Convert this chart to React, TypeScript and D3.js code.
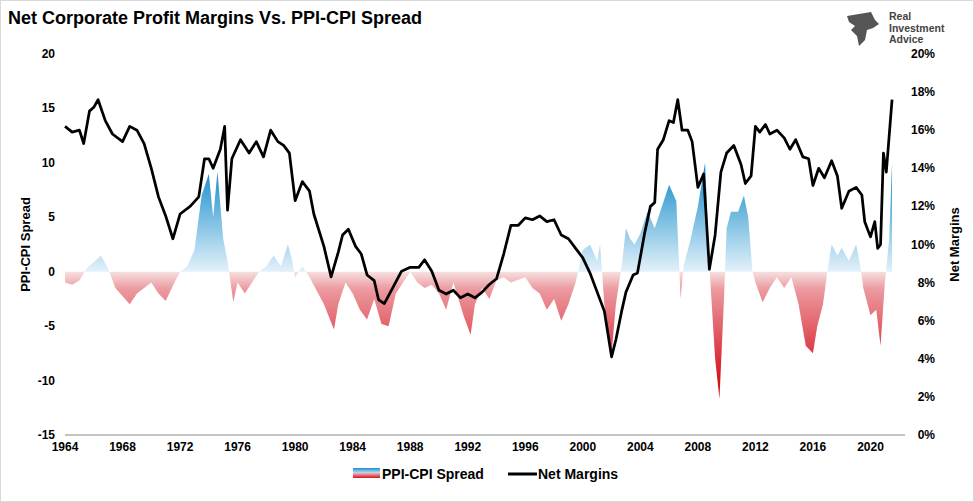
import React, { useEffect, useRef } from 'react';
import * as d3 from 'd3';

// PPI-CPI spread, [year, value]
const spread: [number, number][] = [
  [1964, -1], [1964.5, -1.2], [1965, -0.8], [1965.5, 0.3], [1966.5, 1.5], [1967, 0.3], [1967.5, -1.5],
  [1968.5, -3], [1969, -2], [1969.5, -1.5], [1970, -1], [1970.5, -2], [1971, -2.7], [1971.5, -1.3],
  [1972, 0], [1972.5, 0.5], [1973, 2], [1973.5, 7], [1974, 9], [1974.3, 5], [1974.6, 9.2], [1975, 3],
  [1975.3, 1], [1975.7, -2.8], [1976, -1], [1976.5, -2], [1977, -1], [1977.5, 0], [1978, 0.5],
  [1978.5, 1.5], [1979, 0.5], [1979.5, 2.5], [1979.8, 1], [1980, -0.5], [1980.5, 0.5], [1981, -0.5],
  [1982, -3], [1982.7, -5.3], [1983, -3], [1983.5, -1], [1984, -2], [1984.5, -3.5], [1985, -4.4],
  [1985.5, -2.5], [1986, -4.8], [1986.5, -5], [1987, -2], [1987.5, -1], [1988, 0], [1988.5, -1],
  [1989, -1.5], [1989.5, -1.2], [1990, -2], [1990.5, -3.5], [1991, -1], [1991.7, -4], [1992.2, -5.8],
  [1992.5, -3], [1993, -1.5], [1993.5, -2.5], [1994, -0.8], [1994.5, -0.5], [1995, -1], [1996, -0.5],
  [1996.5, -1.5], [1997, -2], [1997.5, -3.5], [1998, -2.5], [1998.5, -4.5], [1999, -3], [1999.5, -1],
  [2000, 2], [2000.5, 2.5], [2001, 1], [2001.2, 2.5], [2001.5, -3], [2002, -7.5], [2002.3, -3],
  [2002.7, 0.5], [2003, 4], [2003.3, 3], [2003.6, 2.5], [2004, 3.5], [2004.5, 5.5], [2005, 4],
  [2005.5, 6], [2006, 8], [2006.5, 6.5], [2006.8, -2.5], [2007, 0.5], [2007.5, 3], [2008, 6],
  [2008.5, 10], [2008.8, 0.5], [2009.2, -8], [2009.5, -11.7], [2009.8, -3], [2010, 4], [2010.3, 5.5],
  [2010.8, 5.5], [2011.2, 7], [2011.5, 5], [2011.8, 0], [2012, -1], [2012.5, -2.8], [2013, -1.5],
  [2013.5, -0.5], [2014, -1.5], [2014.5, -0.5], [2015, -3], [2015.5, -6.8], [2016, -7.5], [2016.3, -5],
  [2016.7, -3], [2017, 0], [2017.3, 2.5], [2017.7, 1.5], [2018, 2.2], [2018.5, 1], [2019, 2.5],
  [2019.3, 0.5], [2019.5, -1.5], [2020, -4], [2020.4, -3.5], [2020.7, -6.8], [2021, -1], [2021.3, 3],
  [2021.5, 10],
];

// Net corporate profit margins, [year, percent]
const margins: [number, number][] = [
  [1964, 16.2], [1964.5, 15.9], [1965, 16], [1965.3, 15.3], [1965.7, 17], [1966, 17.2], [1966.3, 17.6],
  [1966.8, 16.5], [1967.3, 15.8], [1968, 15.4], [1968.5, 16.2], [1969, 16], [1969.5, 15.3], [1970, 14],
  [1970.5, 12.5], [1971, 11.5], [1971.5, 10.3], [1972, 11.6], [1972.7, 12], [1973.3, 12.5], [1973.7, 14.5],
  [1974, 14.5], [1974.3, 14], [1974.8, 15], [1975.1, 16.2], [1975.3, 11.8], [1975.6, 14.5], [1976.2, 15.5],
  [1976.8, 14.8], [1977.3, 15.4], [1977.8, 14.6], [1978.3, 16], [1978.8, 15.4], [1979.2, 15.2],
  [1979.6, 14.8], [1980, 12.3], [1980.5, 13.3], [1981, 12.8], [1981.3, 11.6], [1982, 9.9], [1982.5, 8.3],
  [1983, 9.6], [1983.3, 10.5], [1983.7, 10.8], [1984.2, 9.9], [1984.6, 9.5], [1985, 8.4], [1985.5, 8.1],
  [1985.8, 7.1], [1986.2, 6.9], [1986.7, 7.6], [1987.4, 8.6], [1988, 8.8], [1988.6, 8.8], [1989, 9.2],
  [1989.5, 8.6], [1990, 7.6], [1990.5, 7.4], [1991, 7.6], [1991.5, 7.2], [1992, 7.4], [1992.5, 7.2],
  [1993, 7.5], [1993.5, 7.9], [1994, 8.2], [1994.5, 9.5], [1995, 11], [1995.5, 11], [1996, 11.4],
  [1996.5, 11.3], [1997, 11.5], [1997.5, 11.2], [1998, 11.3], [1998.5, 10.5], [1999, 10.3], [1999.5, 9.8],
  [2000, 9.3], [2000.5, 8.5], [2001, 7.5], [2001.5, 6.5], [2002, 4.1], [2002.3, 5], [2002.7, 6.5],
  [2003, 7.5], [2003.5, 8.4], [2003.8, 8.5], [2004.3, 10.6], [2004.7, 12], [2005, 12.2], [2005.2, 15],
  [2005.6, 15.5], [2006, 16.5], [2006.3, 16.4], [2006.6, 17.6], [2006.9, 16], [2007.3, 16], [2007.6, 15.4],
  [2008, 13], [2008.4, 13.7], [2008.8, 8.7], [2009.2, 10.5], [2009.6, 13.8], [2010, 14.8], [2010.5, 15.2],
  [2011, 14.2], [2011.3, 13.2], [2011.7, 13.6], [2012, 16.2], [2012.3, 15.9], [2012.7, 16.3], [2013, 15.8],
  [2013.5, 16], [2014, 15.6], [2014.4, 15], [2014.8, 15.5], [2015.3, 14.6], [2015.7, 14.5], [2016, 13.1],
  [2016.4, 14], [2016.8, 13.5], [2017.3, 14.4], [2017.7, 13.6], [2018, 11.9], [2018.5, 12.8], [2019, 13],
  [2019.4, 12.6], [2019.6, 11.2], [2020, 10.4], [2020.3, 11.2], [2020.5, 9.8], [2020.7, 10], [2020.9, 14.8],
  [2021.1, 13.8], [2021.5, 17.6],
];

const yearTicks = d3.range(1964, 2021, 4);
const leftTicks = [-15, -10, -5, 0, 5, 10, 15, 20];
const rightTicks = d3.range(0, 21, 2);

const W = 974, H = 502;
const m = { left: 65, right: 905, top: 54, bottom: 435 };
const font = 'Arial, "Liberation Sans", sans-serif';

const App = () => {
  const ref = useRef<SVGSVGElement | null>(null);

  useEffect(() => {
    if (!ref.current) return;
    const svg = d3.select(ref.current);
    svg.selectAll('*').remove();

    const x = d3.scaleLinear().domain([1964, 2022.4]).range([m.left, m.right]);
    const yL = d3.scaleLinear().domain([-15, 20]).range([m.bottom, m.top]);
    const yR = d3.scaleLinear().domain([0, 20]).range([m.bottom, m.top]);

    svg.append('rect').attr('x', 0.5).attr('y', 0.5).attr('width', W - 1).attr('height', H - 1)
      .attr('fill', 'white').attr('stroke', '#d9d9d9');

    const defs = svg.append('defs');
    const g = defs.append('linearGradient').attr('id', 'sp').attr('gradientUnits', 'userSpaceOnUse')
      .attr('x1', 0).attr('x2', 0).attr('y1', yL(10)).attr('y2', yL(-10));
    [[0, '#0a87c8'], [0.5, '#e3f1fa'], [0.5, '#f6e0e0'], [0.58, '#ec9aa0'], [1, '#d4121e']]
      .forEach(([o, c]) => g.append('stop').attr('offset', o as number).attr('stop-color', c as string));
    const lg = defs.append('linearGradient').attr('id', 'lg').attr('x1', 0).attr('x2', 0).attr('y1', 0).attr('y2', 1);
    [[0, '#1a8fd0'], [0.5, '#bfe0f4'], [0.5, '#f3b8bc'], [1, '#d4121e']]
      .forEach(([o, c]) => lg.append('stop').attr('offset', o as number).attr('stop-color', c as string));

    const area = d3.area<[number, number]>().x(d => x(d[0])).y0(yL(0)).y1(d => yL(d[1]));
    svg.append('path').datum(spread).attr('d', area).attr('fill', 'url(#sp)');

    const line = d3.line<[number, number]>().x(d => x(d[0])).y(d => yR(d[1]));
    svg.append('path').datum(margins).attr('d', line).attr('fill', 'none')
      .attr('stroke', 'black').attr('stroke-width', 2.75).attr('stroke-linejoin', 'round');

    const tickStyle = (s: any) => s.attr('font-family', font).attr('font-size', 12).attr('font-weight', 'bold').attr('fill', '#000');

    svg.append('line').attr('x1', m.left).attr('x2', m.right).attr('y1', m.bottom).attr('y2', m.bottom).attr('stroke', '#888');
    svg.selectAll('.xt').data(yearTicks).enter().append('text').attr('x', d => x(d)).attr('y', m.bottom + 16)
      .attr('text-anchor', 'middle').text(d => d).call(tickStyle);
    svg.selectAll('.yl').data(leftTicks).enter().append('text').attr('x', 55).attr('y', d => yL(d) + 4)
      .attr('text-anchor', 'end').text(d => d).call(tickStyle);
    svg.selectAll('.yr').data(rightTicks).enter().append('text').attr('x', 935).attr('y', d => yR(d) + 4)
      .attr('text-anchor', 'end').text(d => d + '%').call(tickStyle);

    svg.append('text').attr('transform', `translate(30,${yL(2.5)}) rotate(-90)`).attr('text-anchor', 'middle')
      .text('PPI-CPI Spread').call(tickStyle).attr('font-size', 13);
    svg.append('text').attr('transform', `translate(959,${yR(10)}) rotate(-90)`).attr('text-anchor', 'middle')
      .text('Net Margins').call(tickStyle).attr('font-size', 13);

    svg.append('text').attr('x', 8).attr('y', 24).text('Net Corporate Profit Margins Vs. PPI-CPI Spread')
      .call(tickStyle).attr('font-size', 18);

    // legend
    svg.append('rect').attr('x', 353).attr('y', 468).attr('width', 27).attr('height', 10).attr('fill', 'url(#lg)');
    svg.append('text').attr('x', 382).attr('y', 479).text('PPI-CPI Spread').call(tickStyle).attr('font-size', 14);
    svg.append('line').attr('x1', 508).attr('x2', 537).attr('y1', 474).attr('y2', 474).attr('stroke', 'black').attr('stroke-width', 3);
    svg.append('text').attr('x', 538).attr('y', 479).text('Net Margins').call(tickStyle).attr('font-size', 14);

    // logo
    const logo = svg.append('g').attr('transform', 'translate(845,10)');
    logo.append('path').attr('d', 'M2,6 L26,2 L30,10 L34,14 L28,18 L22,20 L20,30 L14,36 L12,26 L6,20 L10,16 L4,12 Z')
      .attr('fill', '#555');
    ['Real', 'Investment', 'Advice'].forEach((t, i) =>
      logo.append('text').attr('x', 44).attr('y', 10 + i * 11.5).text(t).attr('font-family', font)
        .attr('font-size', 10.5).attr('font-weight', 'bold').attr('fill', '#444'));
  }, []);

  return <svg ref={ref} width={W} height={H} style={{ position: 'absolute', left: 0, top: 0 }} />;
};

export default App;
